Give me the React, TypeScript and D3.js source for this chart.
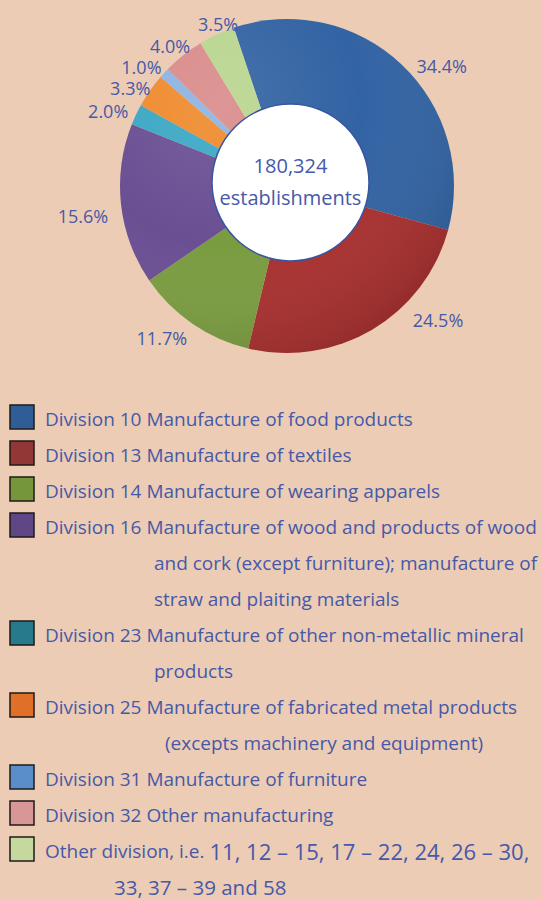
import React from "react";
import * as d3 from "d3";

const categories = [
  "Division 10",
  "Division 13",
  "Division 14",
  "Division 16",
  "Division 23",
  "Division 25",
  "Division 31",
  "Division 32",
  "Other division",
];
const values = [34.4, 24.5, 11.7, 15.6, 2.0, 3.3, 1.0, 4.0, 3.5];
const valueLabels = ["34.4%", "24.5%", "11.7%", "15.6%", "2.0%", "3.3%", "1.0%", "4.0%", "3.5%"];
const legendLines = [
  ["Division 10 Manufacture of food products"],
  ["Division 13 Manufacture of textiles"],
  ["Division 14 Manufacture of wearing apparels"],
  [
    "Division 16 Manufacture of wood and products of wood",
    "and cork (except furniture); manufacture of",
    "straw and plaiting materials",
  ],
  ["Division 23 Manufacture of other non-metallic mineral", "products"],
  ["Division 25 Manufacture of fabricated metal products", "(excepts machinery and equipment)"],
  ["Division 31 Manufacture of furniture"],
  ["Division 32 Other manufacturing"],
  ["Other division, i.e.|11, 12 – 15, 17 – 22, 24, 26 – 30,", "|33, 37 – 39 and 58"],
];
const centerLines = ["180,324", "establishments"];

// styles
const sliceColors = ["#3263a3", "#a8302f", "#7a9c40", "#6a4f93", "#3ba7c4", "#ef8a2d", "#8cb3e0", "#d98b8a", "#b9d58f"];
const swatchColors = ["#2f5d96", "#933636", "#76963b", "#5f4686", "#277a8c", "#e07028", "#5a8ecb", "#d99696", "#c5d99f"];
const contIndent = [0, 0, 0, 154, 154, 165, 0, 0, 114];
const labelNudge: [number, number][] = [
  [6, 11], [34, -21], [2, 4], [0, 10], [4, 2], [11, 5], [7, 3], [15, 1], [27, 1],
];

const W = 542;
const H = 900;
const BG = "#ecccb4";
const TXT = "#4659a9";
const FONT = "'Open Sans', sans-serif";

export default function App() {
  const cx = 287;
  const cy = 186;
  const R = 167;
  const start = (-18.6 * Math.PI) / 180;
  const pie = d3
    .pie<number>()
    .sort(null)
    .startAngle(start)
    .endAngle(start + 2 * Math.PI)
    .value((d) => d);
  const arcs = pie(values);
  const arc = d3.arc<d3.PieArcDatum<number>>().innerRadius(0).outerRadius(R);
  const labelArc = d3.arc<d3.PieArcDatum<number>>().innerRadius(180).outerRadius(180);

  const rowY = d3.scaleLinear().domain([0, 1]).range([419, 455]);
  let row = 0;
  const legendItems = legendLines.map((lines, i) => {
    const r0 = row;
    row += lines.length;
    return { i, r0, lines };
  });

  const renderLine = (t: string, j: number) => {
    if (t.includes("|")) {
      const [a, b] = t.split("|");
      return (
        <>
          {a && <tspan>{a}</tspan>}
          <tspan fontSize={j === 0 ? 22 : 20.5} dx={a ? 5 : 0}>{b}</tspan>
        </>
      );
    }
    return t;
  };

  return (
    <svg width={W} height={H} style={{ position: "absolute", left: 0, top: 0, background: BG }}>
      <defs>
        <radialGradient id="shade" cx="0.3" cy="0.25" r="0.85">
          <stop offset="0" stopColor="#ffffff" stopOpacity={0.1} />
          <stop offset="0.5" stopColor="#ffffff" stopOpacity={0} />
          <stop offset="1" stopColor="#000000" stopOpacity={0.14} />
        </radialGradient>
      </defs>
      <rect x={0} y={0} width={W} height={H} fill={BG} />
      <g transform={`translate(${cx},${cy})`}>
        {arcs.map((a, i) => (
          <path key={categories[i]} d={arc(a) || ""} fill={sliceColors[i]} />
        ))}
        <circle r={R} fill="url(#shade)" />
        {arcs.map((a, i) => {
          const [lx, ly] = labelArc.centroid(a);
          const mid = (a.startAngle + a.endAngle) / 2;
          const right = Math.sin(mid) > 0;
          return (
            <text
              key={"l" + i}
              x={lx + labelNudge[i][0]}
              y={ly + labelNudge[i][1]}
              textAnchor={right ? "start" : "end"}
              dominantBaseline="central"
              fontFamily={FONT}
              fontSize={18}
              fill={TXT}
            >
              {valueLabels[i]}
            </text>
          );
        })}
      </g>
      <circle cx={290.5} cy={182.5} r={78.5} fill="#ffffff" stroke="#3a55a0" strokeWidth={1.5} />
      {centerLines.map((t, i) => (
        <text
          key={t}
          x={290.5}
          y={165 + i * 32}
          textAnchor="middle"
          dominantBaseline="central"
          fontFamily={FONT}
          fontSize={20}
          fill={TXT}
        >
          {t}
        </text>
      ))}
      {legendItems.map(({ i, r0, lines }) => (
        <g key={"lg" + i}>
          <rect
            x={10}
            y={rowY(r0) - 14}
            width={24}
            height={24}
            fill={swatchColors[i]}
            stroke="#1e1a18"
            strokeWidth={1.5}
          />
          {lines.map((t, j) => (
            <text
              key={j}
              x={j === 0 ? 45 : contIndent[i]}
              y={rowY(r0 + j)}
              dominantBaseline="central"
              fontFamily={FONT}
              fontSize={19}
              fill={TXT}
            >
              {renderLine(t, j)}
            </text>
          ))}
        </g>
      ))}
    </svg>
  );
}
